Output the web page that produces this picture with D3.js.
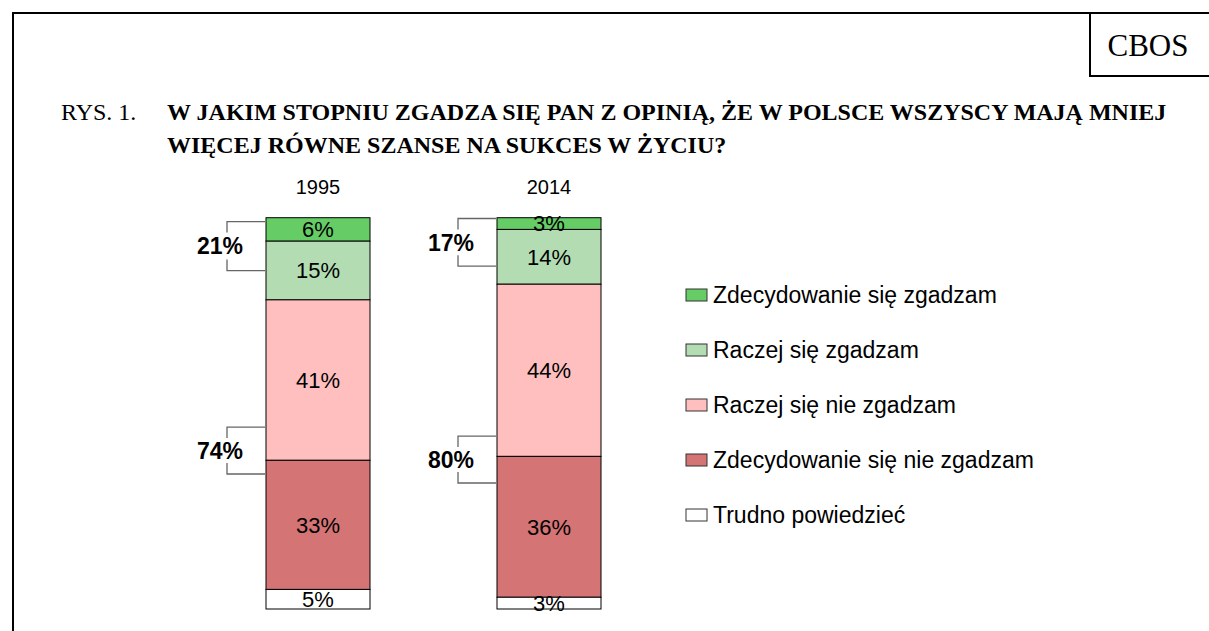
<!DOCTYPE html>
<html>
<head>
<meta charset="utf-8">
<script src="https://cdn.jsdelivr.net/npm/d3@7"></script>
<style>
  body { margin: 0; background: #fff; }
  svg { display: block; }
</style>
</head>
<body>
<svg id="chart" width="1209" height="631"></svg>
<script>
// data
const years = ['1995', '2014']
const categories = [
  'Zdecydowanie się zgadzam',
  'Raczej się zgadzam',
  'Raczej się nie zgadzam',
  'Zdecydowanie się nie zgadzam',
  'Trudno powiedzieć'
]
const values1995 = [6, 15, 41, 33, 5]
const values2014 = [3, 14, 44, 36, 3]
const agreeTotals = ['21%', '17%']
const disagreeTotals = ['74%', '80%']
// bracket spans in percent units (top of bar = 0)
const agreeSpans = [[1, 13.5], [0.2, 12.4]]
const disagreeSpans = [[53.5, 65.5], [55.8, 67.8]]

const colors = ['#66cc66', '#b3dcb3', '#ffbfbf', '#d47474', '#ffffff']

const sans = '"Liberation Sans", Arial, sans-serif'
const serif = '"Liberation Serif", "Times New Roman", "DejaVu Serif", serif'

const svg = d3.select('#chart')

// frame + CBOS box
svg.append('path')
  .attr('d', 'M13,631V13H1209')
  .attr('fill', 'none').attr('stroke', '#000').attr('stroke-width', 2)
svg.append('path')
  .attr('d', 'M1090,13V76H1209')
  .attr('fill', 'none').attr('stroke', '#000').attr('stroke-width', 2)
svg.append('text')
  .attr('x', 1148).attr('y', 56)
  .attr('text-anchor', 'middle')
  .style('font-family', serif).style('font-size', '31px')
  .text('CBOS')

// title
svg.append('text')
  .attr('x', 61).attr('y', 120)
  .style('font-family', serif).style('font-size', '24px')
  .text('RYS. 1.')
let title = svg.append('text')
  .style('font-family', serif).style('font-size', '24px').style('font-weight', 'bold')
title.append('tspan').attr('x', 167).attr('y', 120)
  .text('W JAKIM STOPNIU ZGADZA SIĘ PAN Z OPINIĄ, ŻE W POLSCE WSZYSCY MAJĄ MNIEJ')
title.append('tspan').attr('x', 167).attr('y', 153)
  .text('WIĘCEJ RÓWNE SZANSE NA SUKCES W ŻYCIU?')

// scales
const x = d3.scalePoint().domain(years).range([318, 549])
const y = d3.scaleLinear().domain([0, 100]).range([217.7, 609])
const barW = 104

const series = [values1995, values2014]

series.forEach((vals, bi) => {
  let cx = x(years[bi])
  let g = svg.append('g').attr('class', 'bar-' + years[bi])
  let stack = []
  let acc = 0
  vals.forEach((v, i) => {
    stack.push({ y0: acc, y1: acc + v, v: v, i: i })
    acc += v
  })

  g.selectAll('rect')
    .data(stack)
    .join('rect')
    .attr('x', cx - barW / 2)
    .attr('y', d => y(d.y0))
    .attr('width', barW)
    .attr('height', d => y(d.y1) - y(d.y0))
    .attr('fill', d => colors[d.i])
    .attr('stroke', '#000')
    .attr('stroke-width', 1)

  g.selectAll('text.val')
    .data(stack)
    .join('text')
    .attr('class', 'val')
    .attr('x', cx)
    .attr('y', d => (y(d.y0) + y(d.y1)) / 2)
    .attr('dy', '0.36em')
    .attr('text-anchor', 'middle')
    .style('font-family', sans).style('font-size', '22px')
    .text(d => d.v + '%')

  // year label
  svg.append('text')
    .attr('x', cx).attr('y', 194)
    .attr('text-anchor', 'middle')
    .style('font-family', sans).style('font-size', '20px')
    .text(years[bi])

  // brackets
  let bx = cx - barW / 2 - 39
  let bEnd = cx - barW / 2 - 1
  ;[[agreeSpans[bi], agreeTotals[bi]], [disagreeSpans[bi], disagreeTotals[bi]]].forEach(([span, lab]) => {
    let t = y(span[0]), b = y(span[1])
    let gap = 11
    svg.append('path')
      .attr('d', `M${bEnd},${t}H${bx}V${t + gap}M${bx},${b - gap}V${b}H${bEnd}`)
      .attr('fill', 'none').attr('stroke', '#666').attr('stroke-width', 1.3)
    svg.append('text')
      .attr('x', bx - 7).attr('y', (t + b) / 2)
      .attr('dy', '0.36em')
      .attr('text-anchor', 'middle')
      .style('font-family', sans).style('font-size', '23px').style('font-weight', 'bold')
      .text(lab)
  })
})

// legend
const legend = svg.append('g').attr('class', 'legend')
legend.selectAll('g')
  .data(categories)
  .join('g')
  .attr('transform', (d, i) => `translate(686, ${295 + i * 55})`)
  .each(function (d, i) {
    let item = d3.select(this)
    item.append('rect')
      .attr('x', 0).attr('y', -6)
      .attr('width', 21).attr('height', 12)
      .attr('fill', colors[i]).attr('stroke', '#333').attr('stroke-width', 1)
    item.append('text')
      .attr('x', 27).attr('y', 0).attr('dy', '0.36em')
      .style('font-family', sans).style('font-size', '23px')
      .text(d)
  })
</script>
</body>
</html>
